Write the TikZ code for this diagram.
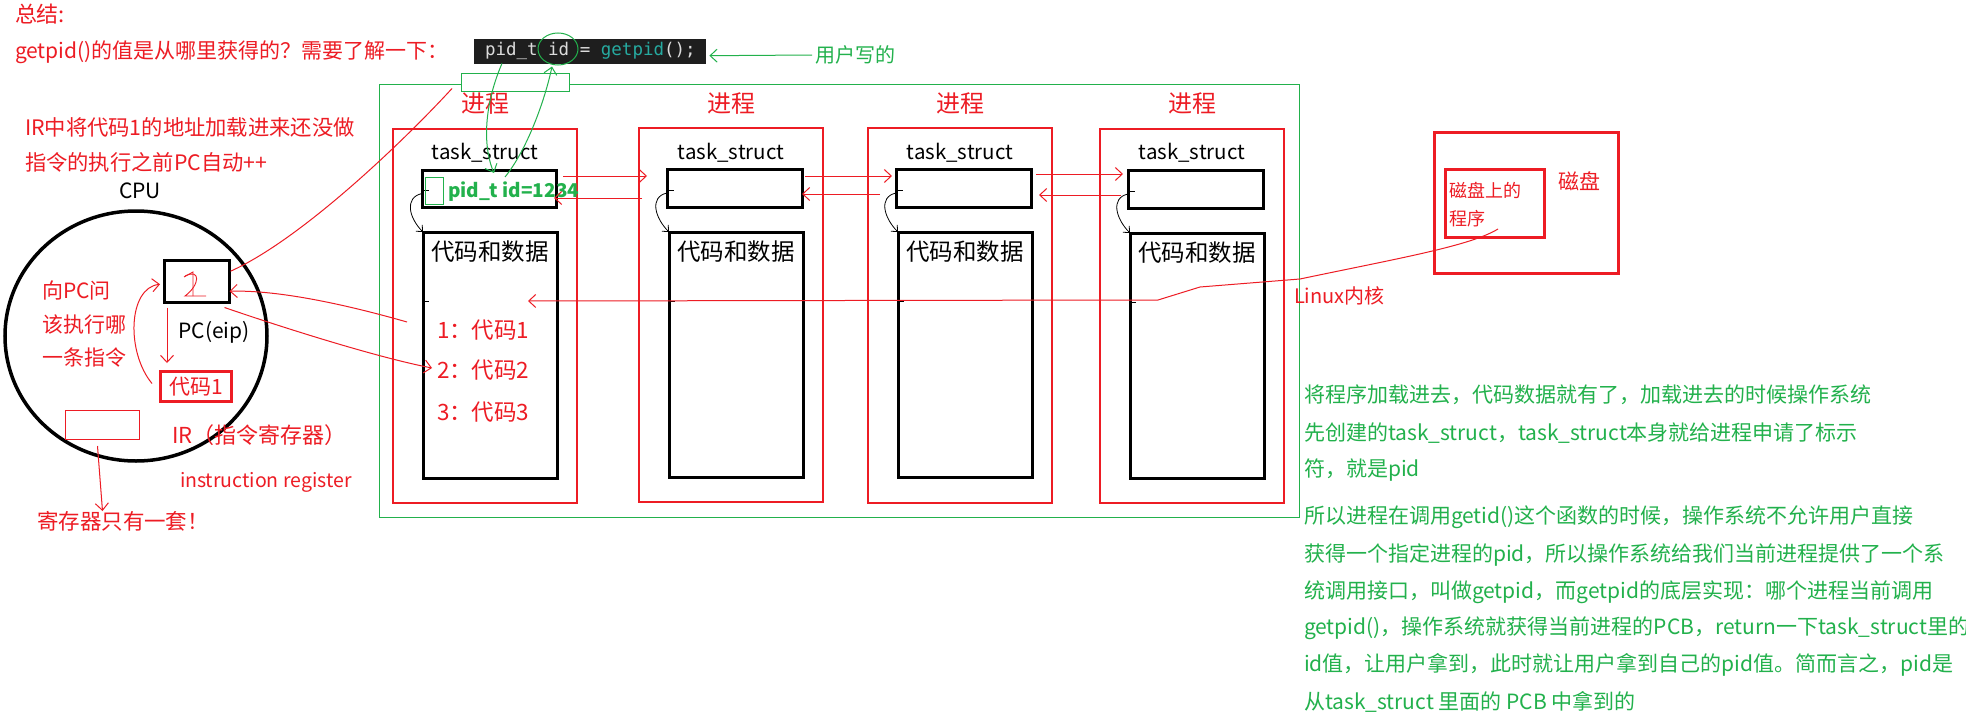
\documentclass[tikz,border=0pt]{standalone}
\usepackage{fontspec}
\setmainfont{Noto Sans CJK SC}
\newfontfamily\codefont{DejaVu Sans Mono}
\usetikzlibrary{arrows.meta,shapes.geometric}
\definecolor{pred}{RGB}{237,28,36}
\definecolor{pgreen}{RGB}{34,177,76}
\definecolor{codebg}{RGB}{30,30,30}
\definecolor{codefg}{RGB}{220,220,220}
\definecolor{codefn}{RGB}{38,170,160}
\newcommand{\fs}[1]{\fontsize{#1}{#1}\selectfont}
\begin{document}
\begin{tikzpicture}[x=1pt,y=-1pt,
  txt/.style={inner sep=0pt, outer sep=0pt, font=\fs{20}},
  rtxt/.style={txt, text=pred},
  gtxt/.style={txt, text=pgreen},
  ktxt/.style={txt, text=black},
  rbox/.style={draw=pred, line width=1.3pt, inner sep=0pt, outer sep=0pt, anchor=north west},
  kbox/.style={draw=black, line width=3pt, inner sep=0pt, outer sep=0pt, anchor=north west},
  redl/.style={draw=pred, line width=1pt},
  greenl/.style={draw=pgreen, line width=1pt},
  blkl/.style={draw=black, line width=0.8pt},
  harrow/.style={-{Straight Barb[length=7pt,width=13pt]}},
  sarrow/.style={-{Straight Barb[length=5pt,width=9pt]}}]
\useasboundingbox[fill=white] (0,0) rectangle (1966,720);

% ---------- top texts ----------
\node[rtxt, font=\fs{22}, anchor=west] (sum) at (15,14) {总结:};
\node[rtxt, font=\fs{21}, anchor=west] (q) at (15,52) {getpid()的值是从哪里获得的？需要了解一下：};
\node[fill=codebg, anchor=north west, minimum width=232pt, minimum height=25pt, inner sep=0pt] (code) at (474,39) {};
\node[txt, anchor=west, font=\codefont\fs{17.5}] (codetext) at (485,51)
  {\color{codefg}pid\_t id = \color{codefn}getpid\color{codefg}();};
\node[draw=pgreen, line width=1pt, ellipse, minimum width=40pt, minimum height=32pt, inner sep=0pt] (idc) at (558,49) {};
\node[gtxt, anchor=west] (user) at (815,55) {用户写的};
\draw[greenl, harrow] ([xshift=-3pt]user.west) -- ([xshift=3pt,yshift=-4pt]code.east);

% ---------- kernel area ----------
\node[draw=pgreen, line width=1.2pt, anchor=north west, minimum width=920pt, minimum height=433pt, inner sep=0pt] (kernel) at (379,84) {};
\node[draw=pgreen, fill=white, line width=1pt, anchor=north west, minimum width=108pt, minimum height=18pt, inner sep=0pt] (gbox) at (461,73) {};

% process boxes
\node[rbox, minimum width=184pt, minimum height=374pt] (P1) at (393,129) {};
\node[rbox, minimum width=184pt, minimum height=374pt] (P2) at (639,128) {};
\node[rbox, minimum width=184pt, minimum height=375pt] (P3) at (868,128) {};
\node[rbox, minimum width=184pt, minimum height=374pt] (P4) at (1100,129) {};

\foreach \c/\n in {485/1,731/2,960/3,1192/4}{
  \node[rtxt, font=\fs{24}] (jc\n) at (\c,104) {进程};
  \node[ktxt, font=\fs{20.5}] (ts\n) at (\c,153) {task\_struct};
}

% task_struct boxes
\node[kbox, minimum width=134pt, minimum height=37pt] (T1) at (422,170) {};
\node[kbox, minimum width=135pt, minimum height=38pt] (T2) at (667,169) {};
\node[kbox, minimum width=135pt, minimum height=38pt] (T3) at (896,169) {};
\node[kbox, minimum width=135pt, minimum height=38pt] (T4) at (1128,170) {};

% code & data boxes
\node[kbox, minimum width=134pt, minimum height=246pt] (C1) at (423,232) {};
\node[kbox, minimum width=134pt, minimum height=245pt] (C2) at (669,232) {};
\node[kbox, minimum width=134pt, minimum height=245pt] (C3) at (898,232) {};
\node[kbox, minimum width=134pt, minimum height=245pt] (C4) at (1130,233) {};

\foreach \n in {1,2,3,4}{
  \node[ktxt, font=\fs{23.5}, anchor=north] (cd\n) at ([yshift=-9pt]C\n.north) {代码和数据};
  \draw[blkl] ([yshift=-2pt]T\n.west) -- ++(7,0);
  \draw[blkl] ([yshift=-69pt]C\n.north west) -- ++(6,0);
  \draw[blkl, sarrow] ([yshift=-5pt]T\n.west) .. controls +(-18,4) and +(-14,-14) .. (C\n.north west);
}

% code lines in process 1
\node[rtxt, font=\fs{22.5}, anchor=west] (l1) at (437,330) {1：代码1};
\node[rtxt, font=\fs{22.5}, anchor=west] (l2) at (437,370) {2：代码2};
\node[rtxt, font=\fs{22.5}, anchor=west] (l3) at (437,412) {3：代码3};

% pid in task_struct 1
\node[draw=pgreen, line width=1pt, anchor=north west, minimum width=18pt, minimum height=27pt, inner sep=0pt] (gbr) at (425,177) {};
\node[gtxt, font=\fs{19}\bfseries, anchor=west] (pid) at (448,192) {pid\_t id=1234};

% green links code <-> pid
\draw[greenl, harrow] ([xshift=28pt,yshift=1pt]code.south west) .. controls (482,110) and (484,150) .. ([xshift=72pt,yshift=-3pt]T1.north west);
\draw[greenl, harrow] ([xshift=83pt,yshift=-7pt]T1.north west) .. controls (527,150) and (545,100) .. ([xshift=-6pt,yshift=-1pt]idc.south);

% red links between task_structs
\draw[redl, harrow] ([xshift=7pt,yshift=12.5pt]T1.east) -- ([xshift=-20pt,yshift=12pt]T2.west);
\draw[redl, harrow] ([xshift=-25pt,yshift=-10pt]T2.west) -- ([xshift=-2pt,yshift=-9.5pt]T1.east);
\draw[redl, harrow] ([xshift=3pt,yshift=12pt]T2.east) -- ([xshift=-4pt,yshift=12pt]T3.west);
\draw[redl, harrow] ([xshift=-16pt,yshift=-6pt]T3.west) -- ([xshift=0pt,yshift=-6pt]T2.east);
\draw[redl, harrow] ([xshift=5pt,yshift=14pt]T3.east) -- ([xshift=-5pt,yshift=15pt]T4.west);
\draw[redl, harrow] ([xshift=-7pt,yshift=-6pt]T4.west) -- ([xshift=8pt,yshift=-7pt]T3.east);

% ---------- disk ----------
\node[draw=pred, line width=3pt, anchor=north west, minimum width=184pt, minimum height=141pt, inner sep=0pt] (disk) at (1433,131) {};
\node[draw=pred, line width=3pt, anchor=north west, minimum width=99pt, minimum height=68pt, inner sep=0pt] (prog) at (1444,168) {};
\node[rtxt, font=\fs{18}, anchor=west] (prog1) at (1449,190) {磁盘上的};
\node[rtxt, font=\fs{18}, anchor=west] (prog2) at (1449,219) {程序};
\node[rtxt, font=\fs{21}, anchor=west] (diskl) at (1558,181) {磁盘};
\node[rtxt, font=\fs{20}, anchor=west] (linux) at (1294,296) {Linux内核};
\coordinate (c1in) at (528,301);
\draw[redl, harrow] ([xshift=-48pt,yshift=10pt]prog.south east) .. controls (1470,246) and (1400,258) .. (1300,279) -- (1200,287) -- (1158,300) -- (c1in);

% ---------- CPU ----------
\node[rtxt, font=\fs{21.3}, anchor=west] (ir1) at (25,127) {IR中将代码1的地址加载进来还没做};
\node[rtxt, font=\fs{21.3}, anchor=west] (ir2) at (25,162) {指令的执行之前PC自动++};
\node[ktxt, font=\fs{21}] (cpul) at (140,191) {CPU};
\node[draw=black, line width=3.5pt, ellipse, minimum width=262pt, minimum height=250pt, inner sep=0pt] (cpu) at (136,336) {};
\node[draw=black, line width=2.5pt, anchor=north west, minimum width=65pt, minimum height=42pt, inner sep=0pt] (pc) at (163,259) {};
\draw[pred, line width=0.9pt] (184,277) -- (193,272) -- (193,296);
\draw[pred, line width=0.9pt] (185,276) .. controls (201,268) and (200,285) .. (185,296) -- (206,296);
\node[ktxt, font=\fs{21}] (pcl) at (214,332) {PC(eip)};
\node[draw=pred, line width=3pt, anchor=north west, minimum width=71pt, minimum height=30pt, inner sep=0pt, text=pred, font=\fs{21}] (code1) at (159,370) {代码1};
\node[rtxt, font=\fs{21}, anchor=west] (ask1) at (42,290) {向PC问};
\node[rtxt, font=\fs{21}, anchor=west] (ask2) at (42,325) {该执行哪};
\node[rtxt, font=\fs{21}, anchor=west] (ask3) at (42,358) {一条指令};
\node[draw=pred, line width=1pt, anchor=north west, minimum width=74pt, minimum height=29pt, inner sep=0pt] (irbox) at (65,410) {};
\node[rtxt, font=\fs{22}, anchor=west] (irl) at (172,435) {IR（指令寄存器）};
\node[rtxt, font=\fs{19.5}, anchor=west] (irl2) at (180,482) {instruction register};
\node[rtxt, font=\fs{21.5}, anchor=west] (reg) at (37,521) {寄存器只有一套！};

\draw[redl, harrow] ([xshift=4pt,yshift=-4pt]pc.south west) -- ([xshift=8pt,yshift=7pt]code1.north west);
\draw[redl, harrow] ([xshift=-7pt,yshift=3pt]code1.west) .. controls (126,352) and (128,288) .. ([xshift=-3pt,yshift=-3pt]pc.west);
\draw[redl, harrow] ([xshift=-30pt,yshift=8pt]l1.west) .. controls (330,300) and (270,290) .. ([xshift=-1pt,yshift=-10pt]pc.east);
\draw[redl, harrow] ([xshift=-6pt,yshift=-4pt]pc.south east) .. controls (290,330) and (380,358) .. ([xshift=-5pt,yshift=2pt]l2.west);
\draw[redl] ([yshift=10pt]pc.east) .. controls (300,240) and (400,145) .. ([xshift=-9pt,yshift=-6pt]gbox.west);
\draw[redl, harrow] ([xshift=-5pt,yshift=-6pt]irbox.south) -- (irbox.south |- reg.north);

% ---------- explanation ----------
\begin{scope}[every node/.style={gtxt, font=\fs{21}, anchor=west}]
\node (e1) at (1304,395) {将程序加载进去，代码数据就有了，加载进去的时候操作系统};
\node (e2) at (1304,433) {先创建的task\_struct，task\_struct本身就给进程申请了标示};
\node (e3) at (1304,470) {符，就是pid};
\node (e4) at (1304,517) {所以进程在调用getid()这个函数的时候，操作系统不允许用户直接};
\node (e5) at (1304,555) {获得一个指定进程的pid，所以操作系统给我们当前进程提供了一个系};
\node (e6) at (1304,592) {统调用接口，叫做getpid，而getpid的底层实现：哪个进程当前调用};
\node (e7) at (1304,628) {getpid()，操作系统就获得当前进程的PCB，return一下task\_struct里的};
\node (e8) at (1304,665) {id值，让用户拿到，此时就让用户拿到自己的pid值。简而言之，pid是};
\node (e9) at (1304,702) {从task\_struct 里面的 PCB 中拿到的};
\end{scope}
\end{tikzpicture}
\end{document}
